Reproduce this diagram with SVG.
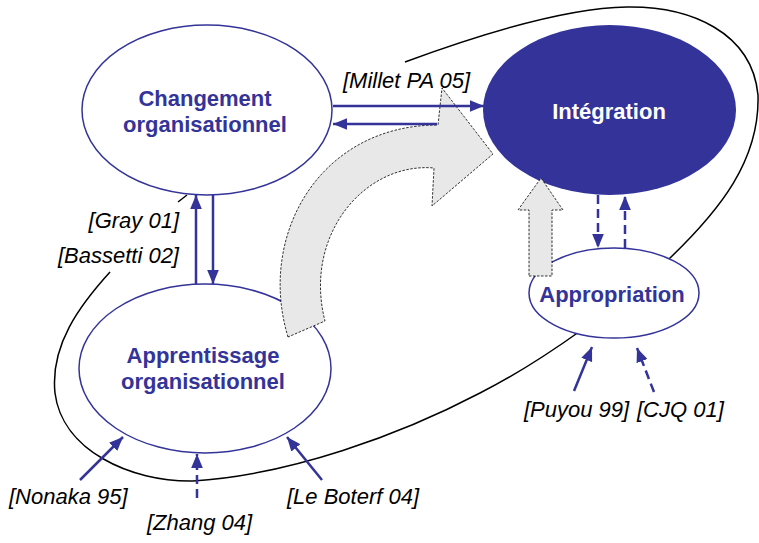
<svg xmlns="http://www.w3.org/2000/svg" width="759" height="543" viewBox="0 0 759 543">
<style>
.node{fill:#fff;stroke:#333399;stroke-width:1.5}
.nodeFill{fill:#333399;stroke:none}
.ntext{font-family:"Liberation Sans",Arial,sans-serif;font-weight:bold;font-size:22px;fill:#333399;text-anchor:middle}
.ntextW{font-family:"Liberation Sans",Arial,sans-serif;font-weight:bold;font-size:22px;fill:#fff;text-anchor:middle}
.lbl{font-family:"Liberation Sans",Arial,sans-serif;font-style:italic;font-size:22px;fill:#000}
.conn{stroke:#333399;stroke-width:2.5;fill:none;marker-end:url(#ah)}
.dash{stroke-dasharray:9,5}
.outline{fill:none;stroke:#000;stroke-width:1.5}
.bigarrow{fill:#E8E8E8;stroke:#000;stroke-width:0.8;stroke-dasharray:2.5,1.5}
</style>
<defs>
<marker id="ah" markerUnits="userSpaceOnUse" markerWidth="14" markerHeight="12" viewBox="0 0 12 10" refX="12" refY="5" orient="auto">
<path d="M0,0 L12,5 L0,10 Z" fill="#333399"/>
</marker>
</defs>

<g id="outline">
<path class="outline" d="M405,62 C470,38 560,8 627,7 C690,6 752,32 758,95 C760,160 720,210 670,258 C620,305 545,360 480,393 C400,435 290,475 193,481 C130,482 62,450 55,393 C50,345 80,305 110,272"/>
<path class="outline" d="M187,195 L178,202"/>
</g>

<g id="changement">
<ellipse class="node" cx="207" cy="110" rx="125" ry="85"/>
<text class="ntext" x="205" y="106">Changement</text>
<text class="ntext" x="205" y="132">organisationnel</text>
</g>

<g id="apprentissage">
<ellipse class="node" cx="205" cy="368.5" rx="126" ry="84.5"/>
<text class="ntext" x="203" y="363">Apprentissage</text>
<text class="ntext" x="203" y="389">organisationnel</text>
</g>

<g id="integration">
<ellipse class="nodeFill" cx="609.5" cy="110" rx="126.5" ry="85"/>
<text class="ntextW" x="609" y="119">Intégration</text>
</g>

<g id="appropriation">
<ellipse class="node" cx="614" cy="293" rx="85" ry="45"/>
<text class="ntext" x="612" y="302">Appropriation</text>
</g>

<g id="big-arrows">
<path class="bigarrow" d="M288,337 C257,235 320,125 438,125 L442,88 L493,154 L432,206 L434,168 C365,162 303,235 325,321 Z"/>
<path class="bigarrow" d="M529,276 L552,276 L552,210 L563,210 L541,178 L518,210 L529,210 Z"/>
</g>

<g id="connectors">
<line class="conn" x1="333" y1="106" x2="484" y2="106"/>
<line class="conn" x1="437" y1="124" x2="333" y2="124"/>
<line class="conn" x1="196" y1="284" x2="196" y2="195"/>
<line class="conn" x1="213" y1="195" x2="213" y2="284"/>
<line class="conn dash" x1="598" y1="195" x2="598" y2="248"/>
<line class="conn dash" x1="625" y1="248" x2="625" y2="196"/>
<line class="conn" x1="574" y1="391" x2="592" y2="347"/>
<line class="conn dash" x1="654" y1="392" x2="637" y2="348"/>
<line class="conn" x1="80" y1="480" x2="123" y2="437"/>
<line class="conn dash" x1="197" y1="498" x2="197" y2="454"/>
<line class="conn" x1="322" y1="480" x2="287" y2="437"/>
</g>

<g id="labels">
<text class="lbl" x="343" y="88">[Millet PA 05]</text>
<text class="lbl" x="179" y="228" text-anchor="end">[Gray 01]</text>
<text class="lbl" x="179" y="263" text-anchor="end">[Bassetti 02]</text>
<text class="lbl" x="9" y="504">[Nonaka 95]</text>
<text class="lbl" x="147" y="530">[Zhang 04]</text>
<text class="lbl" x="287" y="504">[Le Boterf 04]</text>
<text class="lbl" x="524" y="417">[Puyou 99]</text>
<text class="lbl" x="637" y="417">[CJQ 01]</text>
</g>
</svg>
